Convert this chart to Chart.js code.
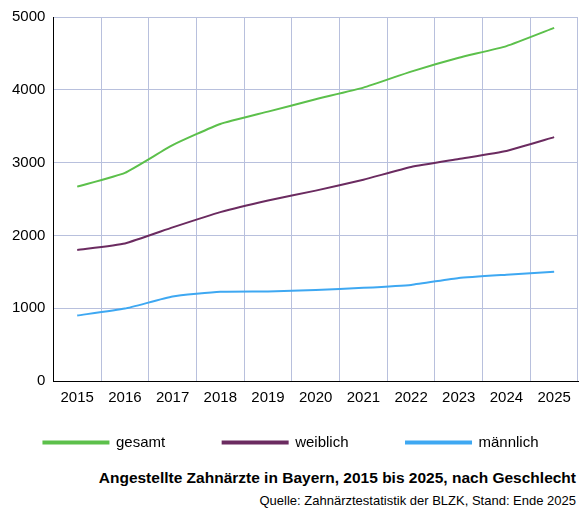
<!DOCTYPE html>
<html><head><meta charset="utf-8">
<script src="https://cdn.jsdelivr.net/npm/chart.js@4"></script>
<style>
body{margin:0;width:584px;height:517px;background:#fff;font-family:"Liberation Sans",Arial,sans-serif;}
#wrap{position:absolute;left:0;top:0;width:584px;height:460px;}
#t1{position:absolute;right:8px;top:469px;font-weight:bold;font-size:15.5px;color:#000;}
#t2{position:absolute;right:8px;top:493px;font-size:13px;color:#000;}
</style></head><body>
<div id="wrap"><canvas id="c"></canvas></div>
<div id="t1">Angestellte Zahnärzte in Bayern, 2015 bis 2025, nach Geschlecht</div>
<div id="t2">Quelle: Zahnärztestatistik der BLZK, Stand: Ende 2025</div>
<script>
const jahre = ['2015','2016','2017','2018','2019','2020','2021','2022','2023','2024','2025'];
const gesamt = [2670,2860,3240,3530,3700,3870,4030,4250,4440,4600,4850];
const weiblich = [1800,1890,2110,2320,2480,2615,2765,2940,3050,3160,3350];
const maennlich = [900,995,1160,1225,1230,1250,1280,1320,1415,1460,1500];

const NB = '\u00a0'.repeat(9);

const serie = (label, data, color) => ({
  label, data, borderColor: color, backgroundColor: color,
  borderWidth: 2, pointRadius: 0, tension: 0.15, fill: false,
});

new Chart(document.getElementById('c'), {
  type: 'line',
  data: {
    labels: jahre,
    datasets: [
      serie('gesamt' + NB, gesamt, '#5cc04b'),
      serie('weiblich' + NB, weiblich, '#6b2b60'),
      serie('männlich', maennlich, '#3ea8f2'),
    ],
  },
  options: {
    responsive: true, maintainAspectRatio: false, animation: false,
    layout: { padding: { left: 4, right: 6, top: 10 } },
    plugins: {
      tooltip: { enabled: false },
      legend: {
        position: 'bottom',
        labels: { boxWidth: 65, boxHeight: 2, padding: 20, color: '#000', font: { size: 15, family: '"Liberation Sans", Arial' } },
      },
    },
    scales: {
      x: {
        offset: true,
        grid: { offset: true, color: '#b8c0dd', drawTicks: false },
        border: { color: '#000', width: 1 },
        ticks: { color: '#000', padding: 8, font: { size: 15, family: '"Liberation Sans", Arial' } },
      },
      y: {
        min: 0, max: 5000,
        grid: { color: '#b8c0dd', drawTicks: false },
        border: { color: '#000', width: 1 },
        ticks: { stepSize: 1000, color: '#000', padding: 8, callback: v => String(v), font: { size: 15, family: '"Liberation Sans", Arial' } },
      },
    },
  },
});
</script>
</body></html>
